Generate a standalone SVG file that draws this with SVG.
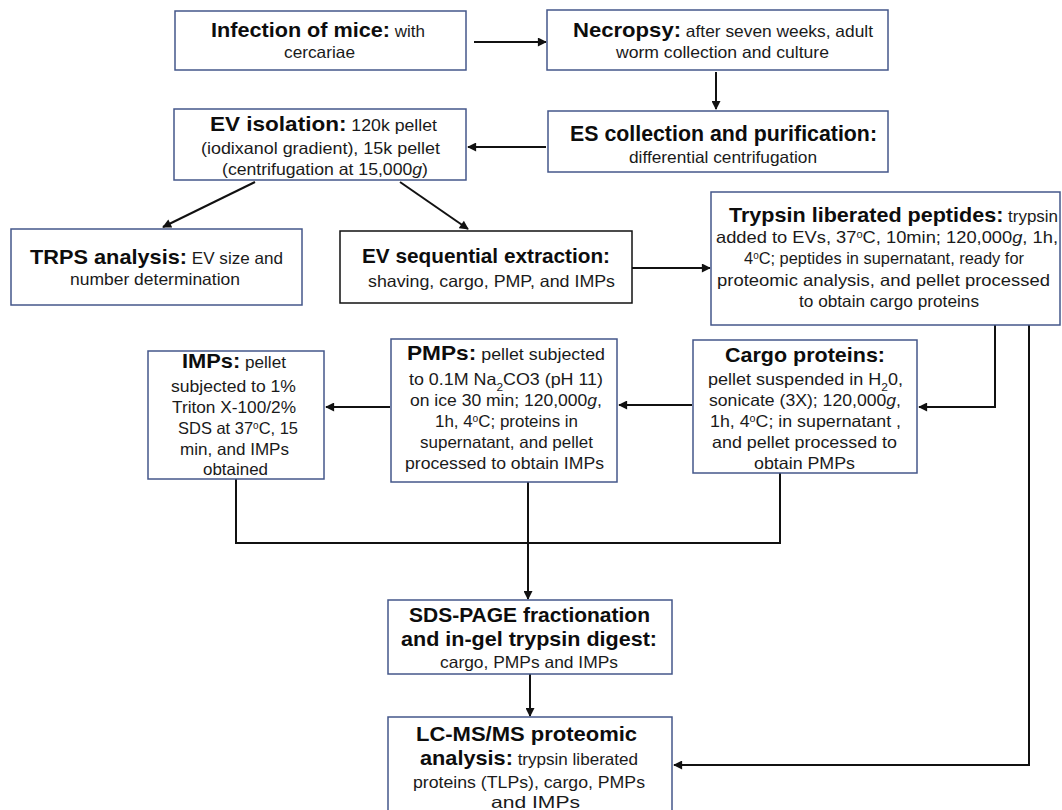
<svg xmlns="http://www.w3.org/2000/svg" width="1062" height="810" viewBox="0 0 1062 810">
<style>
.box{fill:#fff;stroke:#44578a;stroke-width:1.5}
.boxk{fill:#fff;stroke:#111;stroke-width:1.5}
text{font-family:"Liberation Sans",Arial,sans-serif;font-size:16.5px;fill:#1a1a1a}
.h{font-weight:bold;font-size:21px;fill:#0d0d0d}
.c{fill:none;stroke:#111;stroke-width:2}
.i{font-style:italic}
</style>
<defs>
<marker id="ah" viewBox="0 0 10 10" refX="9" refY="5" markerWidth="10" markerHeight="9" markerUnits="userSpaceOnUse" orient="auto"><path d="M0,0 L10,5 L0,10 z" fill="#111"/></marker>
</defs>
<rect width="1062" height="810" fill="#fff"/>

<g id="connectors">
<line class="c" x1="474" y1="42" x2="546" y2="42" marker-end="url(#ah)"/>
<line class="c" x1="716" y1="72" x2="716" y2="109" marker-end="url(#ah)"/>
<line class="c" x1="546" y1="147" x2="468" y2="147" marker-end="url(#ah)"/>
<line class="c" x1="255" y1="182" x2="163" y2="227" marker-end="url(#ah)"/>
<line class="c" x1="400" y1="182" x2="468" y2="229" marker-end="url(#ah)"/>
<line class="c" x1="632" y1="268" x2="710" y2="268" marker-end="url(#ah)"/>
<polyline class="c" points="995,325 995,407 919,407" marker-end="url(#ah)"/>
<polyline class="c" points="1029,325 1029,765 674,765" marker-end="url(#ah)"/>
<line class="c" x1="692" y1="405" x2="619" y2="405" marker-end="url(#ah)"/>
<line class="c" x1="390" y1="407" x2="326" y2="407" marker-end="url(#ah)"/>
<polyline class="c" points="236,479 236,543 780,543 780,473"/>
<line class="c" x1="528" y1="482" x2="528" y2="599" marker-end="url(#ah)"/>
<line class="c" x1="530" y1="674" x2="530" y2="716" marker-end="url(#ah)"/>
</g>

<g id="infection">
<rect class="box" x="175" y="11" width="291" height="59"/>
<text x="211" y="37" textLength="214" lengthAdjust="spacingAndGlyphs"><tspan class="h">Infection of mice:</tspan> with</text>
<text x="284" y="58" textLength="71" lengthAdjust="spacingAndGlyphs">cercariae</text>
</g>

<g id="necropsy">
<rect class="box" x="547" y="10" width="341" height="60"/>
<text x="573" y="37" textLength="300" lengthAdjust="spacingAndGlyphs"><tspan class="h">Necropsy:</tspan> after seven weeks, adult</text>
<text x="616" y="58" textLength="213" lengthAdjust="spacingAndGlyphs">worm collection and culture</text>
</g>

<g id="es-collection">
<rect class="box" x="548" y="111" width="340" height="61"/>
<text x="570" y="141" textLength="307" lengthAdjust="spacingAndGlyphs"><tspan class="h" style="font-size:22px">ES collection and purification:</tspan></text>
<text x="629" y="163" textLength="188" lengthAdjust="spacingAndGlyphs">differential  centrifugation</text>
</g>

<g id="ev-isolation">
<rect class="box" x="174" y="109" width="292" height="71"/>
<text x="210" y="131" textLength="227" lengthAdjust="spacingAndGlyphs"><tspan class="h">EV isolation:</tspan> 120k pellet</text>
<text x="201" y="154" textLength="239" lengthAdjust="spacingAndGlyphs">(iodixanol gradient), 15k pellet</text>
<text x="222" y="175" textLength="206" lengthAdjust="spacingAndGlyphs">(centrifugation  at 15,000<tspan class="i">g</tspan>)</text>
</g>

<g id="trps">
<rect class="box" x="11" y="229" width="291" height="76"/>
<text x="30" y="264" textLength="253" lengthAdjust="spacingAndGlyphs"><tspan class="h">TRPS analysis:</tspan>  EV size and</text>
<text x="70" y="285" textLength="170" lengthAdjust="spacingAndGlyphs">number  determination</text>
</g>

<g id="ev-sequential">
<rect class="boxk" x="340" y="231" width="292" height="72"/>
<text x="362" y="263" textLength="248" lengthAdjust="spacingAndGlyphs"><tspan class="h">EV sequential extraction:</tspan></text>
<text x="368" y="287" textLength="247" lengthAdjust="spacingAndGlyphs">shaving,  cargo, PMP, and IMPs</text>
</g>

<g id="trypsin">
<rect class="box" x="711" y="192" width="349" height="133"/>
<text x="729" y="222" textLength="329" lengthAdjust="spacingAndGlyphs"><tspan class="h">Trypsin liberated  peptides:</tspan> trypsin</text>
<text x="716" y="243" textLength="342" lengthAdjust="spacingAndGlyphs">added to EVs, 37<tspan baseline-shift="super" font-size="10">o</tspan>C, 10min; 120,000<tspan class="i">g</tspan>, 1h,</text>
<text x="744" y="264" textLength="280" lengthAdjust="spacingAndGlyphs">4<tspan baseline-shift="super" font-size="10">o</tspan>C; peptides in supernatant, ready for</text>
<text x="717" y="286" textLength="333" lengthAdjust="spacingAndGlyphs">proteomic analysis, and pellet processed</text>
<text x="799" y="307" textLength="180" lengthAdjust="spacingAndGlyphs">to obtain cargo proteins</text>
</g>

<g id="cargo">
<rect class="box" x="693" y="340" width="224" height="133"/>
<text x="725" y="362" textLength="160" lengthAdjust="spacingAndGlyphs"><tspan class="h">Cargo proteins:</tspan></text>
<text x="708" y="385" textLength="195" lengthAdjust="spacingAndGlyphs">pellet suspended  in H<tspan baseline-shift="sub" font-size="11">2</tspan>0,</text>
<text x="709" y="406" textLength="192" lengthAdjust="spacingAndGlyphs">sonicate (3X);  120,000<tspan class="i">g</tspan>,</text>
<text x="710" y="427" textLength="191" lengthAdjust="spacingAndGlyphs">1h, 4<tspan baseline-shift="super" font-size="10">o</tspan>C; in supernatant  ,</text>
<text x="712" y="448" textLength="185" lengthAdjust="spacingAndGlyphs">and pellet processed  to</text>
<text x="754" y="469" textLength="101" lengthAdjust="spacingAndGlyphs">obtain PMPs</text>
</g>

<g id="pmps">
<rect class="box" x="391" y="339" width="226" height="143"/>
<text x="407" y="360" textLength="198" lengthAdjust="spacingAndGlyphs"><tspan class="h">PMPs:</tspan>  pellet subjected</text>
<text x="409" y="385" textLength="194" lengthAdjust="spacingAndGlyphs">to 0.1M Na<tspan baseline-shift="sub" font-size="11">2</tspan>CO3  (pH 11)</text>
<text x="410" y="406" textLength="192" lengthAdjust="spacingAndGlyphs">on ice 30 min; 120,000<tspan class="i">g</tspan>,</text>
<text x="435" y="427" textLength="143" lengthAdjust="spacingAndGlyphs">1h, 4<tspan baseline-shift="super" font-size="10">o</tspan>C; proteins in</text>
<text x="420" y="448" textLength="173" lengthAdjust="spacingAndGlyphs">supernatant, and pellet</text>
<text x="405" y="469" textLength="199" lengthAdjust="spacingAndGlyphs">processed to obtain IMPs</text>
</g>

<g id="imps">
<rect class="box" x="148" y="351" width="176" height="128"/>
<text x="182" y="368" textLength="104" lengthAdjust="spacingAndGlyphs"><tspan class="h">IMPs:</tspan> pellet</text>
<text x="171" y="392" textLength="125" lengthAdjust="spacingAndGlyphs">subjected to 1%</text>
<text x="172" y="413" textLength="124" lengthAdjust="spacingAndGlyphs">Triton  X-100/2%</text>
<text x="178" y="434" textLength="120" lengthAdjust="spacingAndGlyphs">SDS at 37<tspan baseline-shift="super" font-size="10">o</tspan>C, 15</text>
<text x="180" y="455" textLength="109" lengthAdjust="spacingAndGlyphs">min, and IMPs</text>
<text x="203" y="475" textLength="65" lengthAdjust="spacingAndGlyphs">obtained</text>
</g>

<g id="sds-page">
<rect class="box" x="388" y="600" width="284" height="74"/>
<text x="409" y="622" textLength="241" lengthAdjust="spacingAndGlyphs"><tspan class="h">SDS-PAGE fractionation</tspan></text>
<text x="401" y="646" textLength="256" lengthAdjust="spacingAndGlyphs"><tspan class="h">and in-gel trypsin digest:</tspan></text>
<text x="440" y="668" textLength="178" lengthAdjust="spacingAndGlyphs">cargo, PMPs and IMPs</text>
</g>

<g id="lcms">
<rect class="box" x="388" y="717" width="284" height="110"/>
<text x="416" y="741" textLength="221" lengthAdjust="spacingAndGlyphs"><tspan class="h">LC-MS/MS proteomic</tspan></text>
<text x="420" y="765" textLength="218" lengthAdjust="spacingAndGlyphs"><tspan class="h">analysis:</tspan> trypsin liberated</text>
<text x="413" y="788" textLength="232" lengthAdjust="spacingAndGlyphs">proteins (TLPs), cargo, PMPs</text>
<text x="491" y="808" textLength="89" lengthAdjust="spacingAndGlyphs">and IMPs</text>
</g>
</svg>
